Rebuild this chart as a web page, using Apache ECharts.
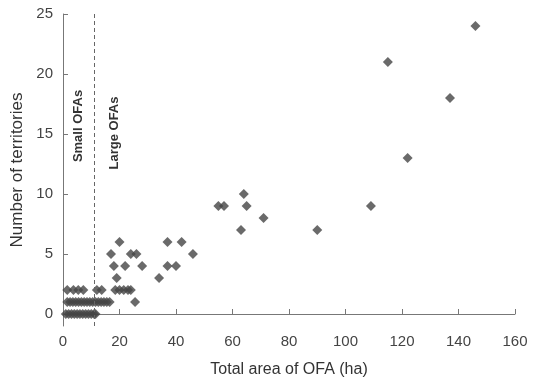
<!DOCTYPE html>
<html>
<head>
<meta charset="utf-8">
<script src="https://cdn.jsdelivr.net/npm/echarts@6/dist/echarts.min.js"></script>
<style>
  html, body { margin: 0; padding: 0; background: #fff; }
  #chart { width: 536px; height: 387px; }
</style>
</head>
<body>
<div id="chart"></div>
<script>
// area of OFA (ha) and number of territories
const areaHa = [
  1, 2, 3, 4, 5, 6, 7, 8, 9, 10, 11, 11.5,
  1.5, 2.5, 3.5, 4.5, 5.5, 6.5, 7.5, 8.5, 9.5, 10.5, 11.5, 12.5, 13.5, 14.5, 15.5, 16.5, 25.5,
  1.5, 3.7, 5.4, 7.2, 12, 13.7, 18.5, 20, 21.5, 23, 24,
  19, 34,
  18, 22, 28, 37, 40,
  17, 24, 26, 46,
  20, 37, 42,
  63, 90,
  71,
  55, 57, 65, 109,
  64,
  122, 137, 115, 146
]
const territories = [
  0, 0, 0, 0, 0, 0, 0, 0, 0, 0, 0, 0,
  1, 1, 1, 1, 1, 1, 1, 1, 1, 1, 1, 1, 1, 1, 1, 1, 1,
  2, 2, 2, 2, 2, 2, 2, 2, 2, 2, 2,
  3, 3,
  4, 4, 4, 4, 4,
  5, 5, 5, 5,
  6, 6, 6,
  7, 7,
  8,
  9, 9, 9, 9,
  10,
  13, 18, 21, 24
]
const xTicks = [0, 20, 40, 60, 80, 100, 120, 140, 160]
const yTicks = [0, 5, 10, 15, 20, 25]
const splitArea = 11.2 // small / large OFA boundary

const points = areaHa.map((x, i) => [x, territories[i]])

const myChart = echarts.init(document.getElementById('chart'))
const axisColor = '#777'
const textColor = '#444'
const font = 'Liberation Sans, Arial, sans-serif'

const option = {
  backgroundColor: '#fff',
  animation: false,
  grid: { left: 63, right: 21, top: 14, bottom: 61 },
  xAxis: {
    type: 'value',
    min: 0,
    max: 160,
    interval: 20,
    name: 'Total area of OFA (ha)',
    nameLocation: 'middle',
    nameGap: 36,
    nameTextStyle: { fontSize: 16, color: '#333', fontFamily: font },
    axisLine: { lineStyle: { color: axisColor } },
    axisTick: { inside: true, length: 5, lineStyle: { color: axisColor }, customValues: xTicks },
    axisLabel: { fontSize: 15, color: textColor, fontFamily: font, margin: 8, customValues: xTicks },
    splitLine: { show: false }
  },
  yAxis: {
    type: 'value',
    min: -1,
    max: 25,
    name: 'Number of territories',
    nameLocation: 'middle',
    nameGap: 32,
    nameTextStyle: { fontSize: 17, color: '#333', fontFamily: font },
    axisLine: { show: true, lineStyle: { color: axisColor } },
    axisTick: { show: true, inside: true, length: 5, lineStyle: { color: axisColor }, customValues: yTicks },
    axisLabel: { fontSize: 15, color: textColor, fontFamily: font, margin: 10, customValues: yTicks },
    splitLine: { show: false }
  },
  series: [
    {
      type: 'scatter',
      symbol: 'diamond',
      symbolSize: 10,
      itemStyle: { color: '#454545' },
      data: points,
      markLine: {
        silent: true,
        symbol: 'none',
        label: { show: false },
        lineStyle: { color: '#666', type: [4, 3], width: 1 },
        data: [[{ coord: [splitArea, -1] }, { coord: [splitArea, 25] }]]
      }
    }
  ],
  graphic: [
    {
      type: 'text',
      x: 78,
      y: 126,
      rotation: Math.PI / 2,
      style: {
        text: 'Small OFAs',
        fontSize: 13,
        fontWeight: 'bold',
        fontFamily: font,
        fill: '#333',
        align: 'center',
        verticalAlign: 'middle'
      }
    },
    {
      type: 'text',
      x: 114,
      y: 133,
      rotation: Math.PI / 2,
      style: {
        text: 'Large OFAs',
        fontSize: 13,
        fontWeight: 'bold',
        fontFamily: font,
        fill: '#333',
        align: 'center',
        verticalAlign: 'middle'
      }
    }
  ]
}

option && myChart.setOption(option)
</script>
</body>
</html>
